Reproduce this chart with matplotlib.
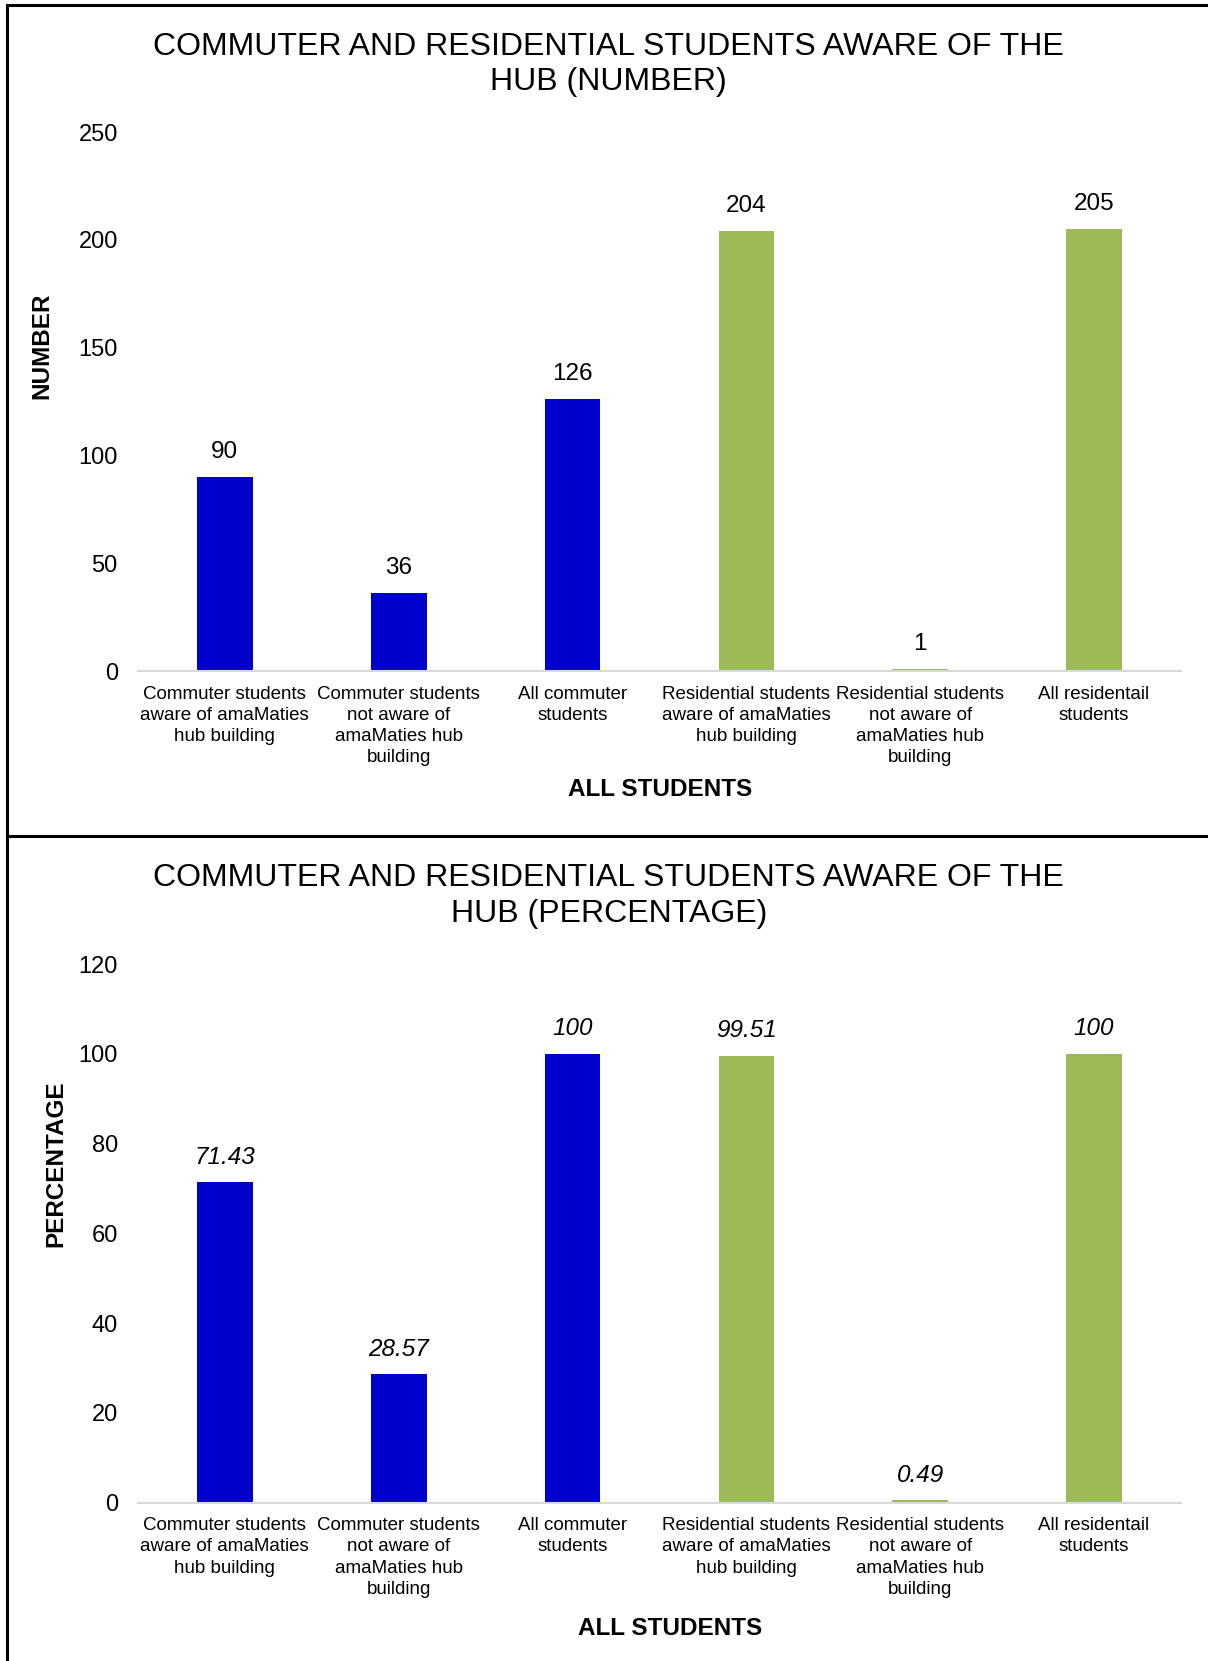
import matplotlib.pyplot as plt
from matplotlib.lines import Line2D

plt.rcParams['font.family'] = ['Liberation Sans', 'DejaVu Sans']

categories = [
    "Commuter students\naware of amaMaties\nhub building",
    "Commuter students\nnot aware of\namaMaties hub\nbuilding",
    "All commuter\nstudents",
    "Residential students\naware of amaMaties\nhub building",
    "Residential students\nnot aware of\namaMaties hub\nbuilding",
    "All residentail\nstudents",
]
numbers = [90, 36, 126, 204, 1, 205]
percentages = [71.43, 28.57, 100, 99.51, 0.49, 100]
bar_colors = ["#0000CC", "#0000CC", "#0000CC", "#9BBB59", "#9BBB59", "#9BBB59"]


def draw_panel(ax, values, ymax, ystep, ylabel, italic, ylabel_xy, xlabel_xy):
    x = range(len(values))
    bars = ax.bar(x, values, width=0.32, color=bar_colors)
    for rect, v in zip(bars, values):
        ax.annotate(f"{v:g}", (rect.get_x() + rect.get_width() / 2, v),
                    xytext=(0, 18), textcoords="offset points",
                    ha="center", va="center", fontsize=17.5,
                    style="italic" if italic else "normal")
    ax.set_xlim(-0.5, len(values) - 0.5)
    ax.set_ylim(0, ymax)
    ax.set_yticks(range(0, ymax + 1, ystep))
    ax.set_xticks(list(x))
    ax.set_xticklabels(categories, fontsize=13.5, linespacing=1.33)
    ax.tick_params(axis="y", length=0, pad=14.5, labelsize=17)
    ax.tick_params(axis="x", length=0, pad=10.5)
    for s in ["top", "right", "left"]:
        ax.spines[s].set_visible(False)
    ax.spines["bottom"].set_color("#D9D9D9")
    ax.spines["bottom"].set_linewidth(1.5)
    ax.set_ylabel(ylabel, fontsize=17.5, fontweight="bold")
    ax.yaxis.set_label_coords(*ylabel_xy)
    ax.set_xlabel("ALL STUDENTS", fontsize=17.5, fontweight="bold")
    ax.xaxis.set_label_coords(*xlabel_xy)


fig = plt.figure(figsize=(12.08, 16.61), dpi=100)

ax1 = fig.add_axes([0.1142, 0.596, 0.8634, 0.3245])
draw_panel(ax1, numbers, 250, 50, "NUMBER", False, (-0.0815, 0.603), (0.5005, -0.199))
fig.text(0.504, 0.9612, "COMMUTER AND RESIDENTIAL STUDENTS AWARE OF THE\nHUB (NUMBER)",
         ha="center", va="center", fontsize=23, linespacing=1.24)

ax2 = fig.add_axes([0.1142, 0.0954, 0.8634, 0.3242])
draw_panel(ax2, percentages, 120, 20, "PERCENTAGE", True, (-0.068, 0.630), (0.51, -0.212))
fig.text(0.504, 0.4603, "COMMUTER AND RESIDENTIAL STUDENTS AWARE OF THE\nHUB (PERCENTAGE)",
         ha="center", va="center", fontsize=23, linespacing=1.26)

# frame lines around the two charts
W, H = 1208, 1661
frame = dict(color="black", linewidth=2.2, transform=fig.transFigure)
fig.add_artist(Line2D([7.5 / W, 1], [1 - 4.5 / H, 1 - 4.5 / H], **frame))
fig.add_artist(Line2D([7.5 / W, 7.5 / W], [0, 1 - 4.5 / H], **frame))
fig.add_artist(Line2D([7.5 / W, 1], [1 - 836 / H, 1 - 836 / H], **frame))

fig.savefig("out.png", dpi=100)
